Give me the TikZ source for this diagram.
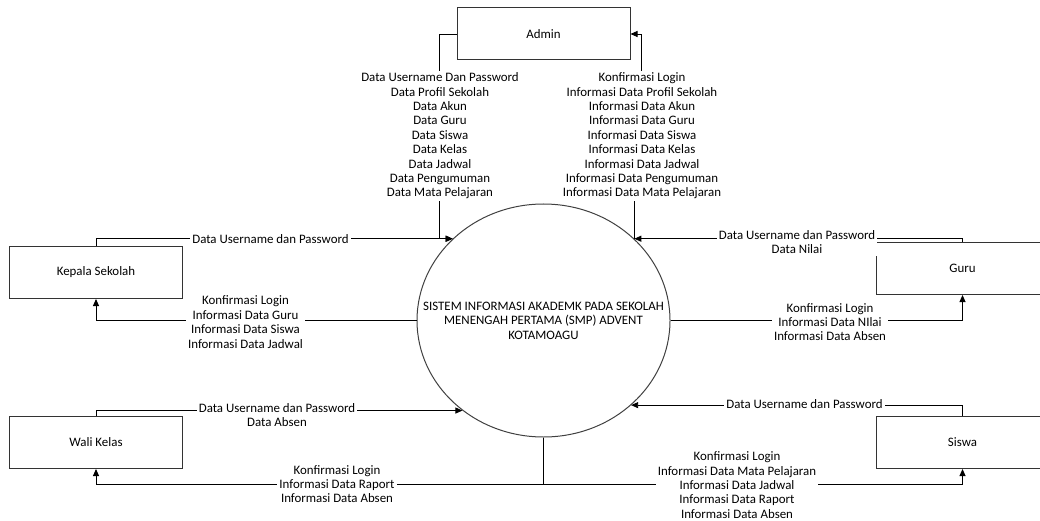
\documentclass[tikz,border=0pt]{standalone}
\usepackage{fontspec}
\setmainfont{Carlito}
\usetikzlibrary{positioning,arrows.meta,shapes.geometric}

\begin{document}
\begin{tikzpicture}[
  x=1pt, y=-1pt, line width=0.9pt,
  entity/.style={draw=black!80, line width=1pt, minimum width=173pt,
                 minimum height=52pt, font=\fontsize{12.9}{14.4}\selectfont},
  process/.style={draw=black!75, line width=1pt, ellipse,
                  minimum width=253pt, minimum height=233pt},
  lbl/.style={fill=white, align=center, inner sep=2pt,
              font=\fontsize{12.9}{14.4}\selectfont},
  arr/.style={-{Triangle[length=7pt,width=6pt]}}
]
\clip (0,0) rectangle (1040,521);
\node[process] (sys) at (543.5,320.5) {};
\node[lbl, fill=none] (systxt) at (sys)
  {SISTEM INFORMASI AKADEMK PADA SEKOLAH\\
   MENENGAH PERTAMA (SMP) ADVENT\\ KOTAMOAGU};
\node[entity, above=143pt of sys] (admin) {Admin};
\node[entity, left=233.5pt of sys, yshift=48pt] (kepala) {Kepala Sekolah};
\node[entity, left=233.5pt of sys, yshift=-122pt] (wali) {Wali Kelas};
\node[entity, right=205pt of sys, yshift=52pt] (guru) {Guru};
\node[entity, right=205pt of sys, yshift=-122pt] (siswa) {Siswa};
\coordinate (split) at ([yshift=-46.5pt]sys.south);

\draw[arr] (admin.west) -- ++(-17,0) |- (sys.138);
\draw[arr] (sys.42) -- ++(0,-100) -| ([xshift=11pt]admin.east) -- (admin.east);
\draw[arr] (kepala.north) |- (sys.138);
\draw[arr] (sys.west) -| (kepala.south);
\draw[arr] (guru.north) |- (sys.42);
\draw[arr] (sys.east) -| (guru.south);
\draw[arr] (wali.north) |- (sys.228.6);
\draw[arr] (siswa.north) |- (sys.316.6);
\draw (sys.south) -- (split);
\draw[arr] (split) -| (wali.south);
\draw[arr] (split) -| (siswa.south);

\node[lbl] (admdata) at (440,136)
  {Data Username Dan Password\\ Data Profil Sekolah\\ Data Akun\\ Data Guru\\
   Data Siswa\\ Data Kelas\\ Data Jadwal\\ Data Pengumuman\\ Data Mata Pelajaran};
\node[lbl] (adminfo) at (642,136)
  {Konfirmasi Login\\ Informasi Data Profil Sekolah\\ Informasi Data Akun\\
   Informasi Data Guru\\ Informasi Data Siswa\\ Informasi Data Kelas\\
   Informasi Data Jadwal\\ Informasi Data Pengumuman\\ Informasi Data Mata Pelajaran};
\node[lbl] (kpsdata) at (270.5,239) {Data Username dan Password};
\node[lbl] (kpsinfo) at (245.5,322)
  {Konfirmasi Login\\ Informasi Data Guru\\ Informasi Data Siswa\\ Informasi Data Jadwal};
\node[lbl] (gurudata) at (797,242) {Data Username dan Password\\ Data Nilai};
\node[lbl] (guruinfo) at (830,322)
  {Konfirmasi Login\\ Informasi Data NIlai\\ Informasi Data Absen};
\node[lbl] (walidata) at (277,415) {Data Username dan Password\\ Data Absen};
\node[lbl] (waliinfo) at (337,484)
  {Konfirmasi Login\\ Informasi Data Raport\\ Informasi Data Absen};
\node[lbl] (siswadata) at (804.5,404) {Data Username dan Password};
\node[lbl] (siswainfo) at (737,485)
  {Konfirmasi Login\\ Informasi Data Mata Pelajaran\\ Informasi Data Jadwal\\
   Informasi Data Raport\\ Informasi Data Absen};
\end{tikzpicture}
\end{document}
